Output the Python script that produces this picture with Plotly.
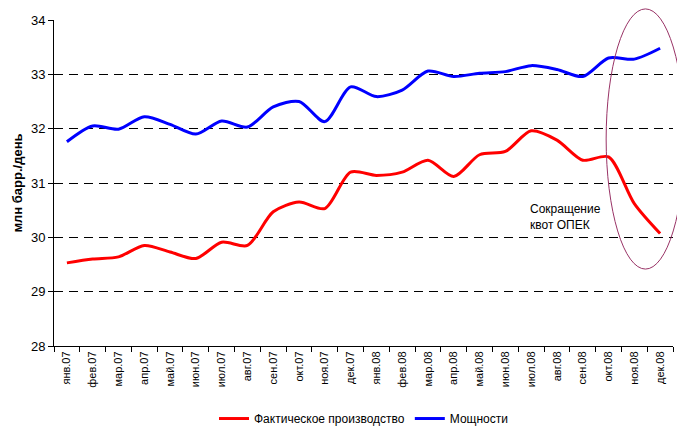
import plotly.graph_objects as go

months = ["янв.07", "фев.07", "мар.07", "апр.07", "май.07", "июн.07", "июл.07", "авг.07",
          "сен.07", "окт.07", "ноя.07", "дек.07", "янв.08", "фев.08", "мар.08", "апр.08",
          "май.08", "июн.08", "июл.08", "авг.08", "сен.08", "окт.08", "ноя.08", "дек.08"]
production = [29.53, 29.60, 29.64, 29.85, 29.73, 29.61, 29.91, 29.85,
              30.47, 30.65, 30.53, 31.20, 31.14, 31.20, 31.42, 31.12,
              31.52, 31.58, 31.96, 31.79, 31.42, 31.48, 30.62, 30.07]
capacity = [31.76, 32.05, 31.99, 32.22, 32.08, 31.90, 32.14, 32.03,
            32.40, 32.50, 32.13, 32.77, 32.59, 32.71, 33.06, 32.96,
            33.02, 33.05, 33.16, 33.09, 32.96, 33.30, 33.28, 33.48]
y_ticks = [28, 29, 30, 31, 32, 33, 34]

fig = go.Figure()
fig.add_trace(go.Scatter(x=months, y=production, mode="lines", name="Фактическое производство",
                         line=dict(color="#FF0000", width=3, shape="spline", smoothing=0.8)))
fig.add_trace(go.Scatter(x=months, y=capacity, mode="lines", name="Мощности",
                         line=dict(color="#0000FF", width=3, shape="spline", smoothing=0.8)))

fig.add_shape(type="circle", xref="paper", yref="paper",
              x0=0.892, x1=1.019, y0=0.236, y1=1.034,
              line=dict(color="#993366", width=1))
fig.add_annotation(xref="paper", yref="paper", x=0.765, y=0.396, xanchor="left", yanchor="middle",
                   text="Сокращение<br>квот ОПЕК", showarrow=False, align="left",
                   font=dict(family="Liberation Sans, Arial", size=12, color="#000000"))

fig.update_layout(
    width=677, height=419,
    margin=dict(l=46, r=12, t=12, b=81, autoexpand=False),
    paper_bgcolor="white", plot_bgcolor="white",
    font=dict(family="Liberation Sans, Arial", color="#000000"),
    showlegend=True,
    legend=dict(orientation="h", x=0.5, xanchor="center", y=-0.178, yanchor="top",
                font=dict(size=12), itemwidth=30, tracegroupgap=0),
    xaxis=dict(type="category", range=[-0.5, 23.5], tickangle=-90, automargin=False,
               tickfont=dict(size=11), showline=True, linecolor="#000000", linewidth=1,
               ticks="outside", tickson="boundaries", ticklen=5, tickcolor="#000000",
               showgrid=False, zeroline=False),
    yaxis=dict(range=[28, 34], tickvals=y_ticks, tickfont=dict(size=13), automargin=False,
               showline=True, linecolor="#000000", linewidth=1,
               ticks="outside", ticklen=5, tickcolor="#000000",
               showgrid=True, gridcolor="#000000", gridwidth=1, griddash="9px,6px",
               zeroline=False,
               title=dict(text="<b>млн барр./день</b>", font=dict(size=13), standoff=5)),
)

fig.write_html("out.html")
